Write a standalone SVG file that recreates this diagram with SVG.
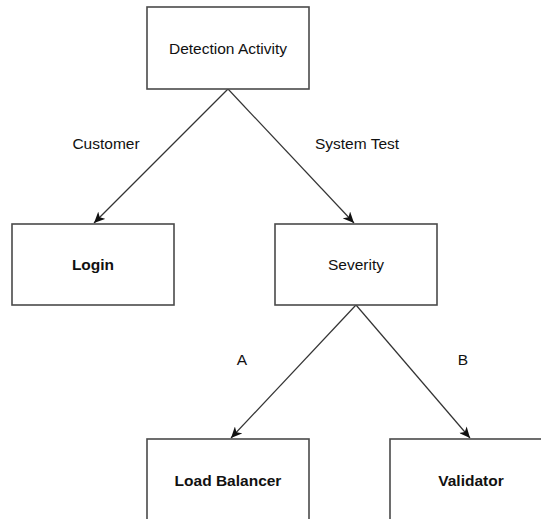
<svg xmlns="http://www.w3.org/2000/svg" width="541" height="519" viewBox="0 0 541 519">
  <style>
    .box { fill: #ffffff; stroke: #4a4a4a; stroke-width: 1.6; }
    .edge { fill: none; stroke: #333333; stroke-width: 1.2; }
    text { font-family: "Liberation Sans", Arial, sans-serif; font-size: 15.5px; fill: #111111; text-anchor: middle; }
    .bold { font-weight: bold; }
  </style>
  <defs>
    <marker id="arrow" viewBox="0 0 12 10" refX="11" refY="5" markerWidth="12" markerHeight="10" markerUnits="userSpaceOnUse" orient="auto">
      <path d="M0,0 L11,5 L0,10 L3,5 Z" fill="#111111"/>
    </marker>
  </defs>
  <rect width="541" height="519" fill="#ffffff"/>

  <g id="connectors">
    <line class="edge" x1="228" y1="89" x2="94" y2="223" marker-end="url(#arrow)"/>
    <line class="edge" x1="228" y1="89" x2="354" y2="223" marker-end="url(#arrow)"/>
    <line class="edge" x1="356" y1="305" x2="231" y2="438" marker-end="url(#arrow)"/>
    <line class="edge" x1="356" y1="305" x2="470" y2="438" marker-end="url(#arrow)"/>
    <text x="106" y="149">Customer</text>
    <text x="357" y="149">System Test</text>
    <text x="242" y="365">A</text>
    <text x="463" y="365">B</text>
  </g>

  <g id="detection-activity">
    <rect class="box" x="147" y="7" width="162" height="82"/>
    <text x="228" y="54">Detection Activity</text>
  </g>
  <g id="login">
    <rect class="box" x="12" y="224" width="162" height="81"/>
    <text class="bold" x="93" y="270">Login</text>
  </g>
  <g id="severity">
    <rect class="box" x="275" y="224" width="162" height="81"/>
    <text x="356" y="270">Severity</text>
  </g>
  <g id="load-balancer">
    <rect class="box" x="147" y="439" width="162" height="81"/>
    <text class="bold" x="228" y="486">Load Balancer</text>
  </g>
  <g id="validator">
    <rect class="box" x="390" y="439" width="162" height="81"/>
    <text class="bold" x="471" y="486">Validator</text>
  </g>
</svg>
